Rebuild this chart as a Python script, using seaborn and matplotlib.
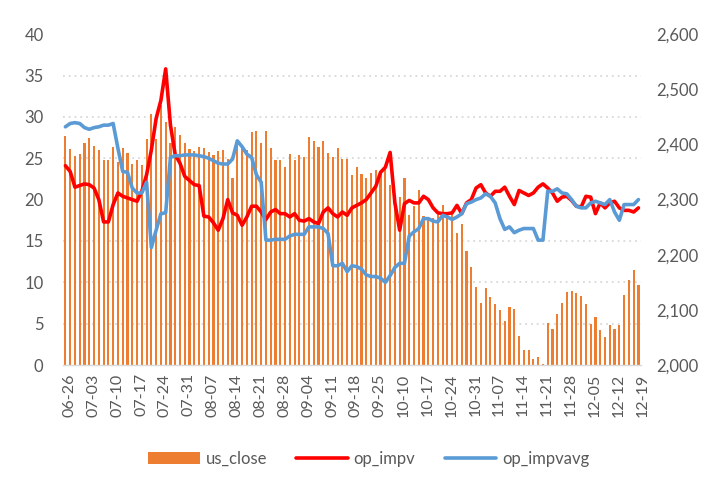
import pandas as pd
import seaborn as sns
import matplotlib.pyplot as plt
import matplotlib.transforms as mtrans
from matplotlib.patches import Patch
from matplotlib.lines import Line2D
from matplotlib.ticker import FuncFormatter

# trading days 2023-06-26 .. 2023-12-19 (exchange closed 09-29 .. 10-06)
holidays = ['2023-09-29', '2023-10-02', '2023-10-03', '2023-10-04',
            '2023-10-05', '2023-10-06']
dates = [d.strftime('%m-%d') for d in pd.bdate_range('2023-06-26', '2023-12-19')
         if d.strftime('%Y-%m-%d') not in holidays]

us_close = [2415, 2391, 2379, 2382, 2402, 2412, 2397, 2390, 2372, 2371,
            2396, 2369, 2394, 2384, 2365, 2372, 2363, 2409, 2455, 2409,
            2472, 2440, 2402, 2432, 2417, 2403, 2391, 2389, 2395, 2394,
            2387, 2381, 2388, 2390, 2374, 2339, 2408, 2396, 2390, 2423,
            2425, 2403, 2425, 2393, 2371, 2372, 2359, 2383, 2371, 2381,
            2377, 2413, 2406, 2396, 2406, 2385, 2377, 2394, 2373, 2374,
            2345, 2359, 2347, 2340, 2349, 2353, 2350, 2355, 2326, 2305,
            2305, 2340, 2272, 2289, 2317, 2270, 2269, 2266, 2275, 2290,
            2278, 2274, 2240, 2256, 2207, 2178, 2142, 2113, 2139, 2123,
            2110, 2099, 2080, 2106, 2102, 2053, 2027, 2028, 2011, 2015,
            2002, 2076, 2066, 2092, 2112, 2133, 2134, 2130, 2126, 2111,
            2075, 2087, 2064, 2051, 2073, 2065, 2073, 2127, 2154, 2172,
            2145]

op_impv = [24.1, 23.4, 21.5, 21.7, 21.9, 21.8, 21.4, 20.0, 17.3, 17.3,
           19.4, 20.8, 20.4, 20.2, 20.0, 19.8, 21.0, 23.0, 26.0, 29.8,
           32.0, 35.8, 29.0, 25.4, 24.4, 22.8, 22.3, 21.8, 21.7, 18.0,
           17.9, 17.2, 16.3, 17.7, 20.0, 18.4, 18.1, 16.9, 17.9, 19.2,
           19.2, 18.5, 17.6, 18.5, 18.8, 18.3, 18.3, 17.9, 18.3, 17.5,
           17.4, 17.7, 17.3, 17.1, 18.5, 19.0, 18.3, 17.9, 18.5, 18.1,
           19.0, 19.3, 19.6, 20.0, 20.8, 21.6, 23.3, 23.9, 25.7, 19.6,
           16.3, 19.5, 19.9, 19.6, 19.6, 20.4, 20.0, 19.0, 18.4, 18.3,
           18.3, 18.4, 19.3, 18.3, 19.6, 20.0, 21.4, 21.8, 20.8, 20.4,
           21.0, 21.0, 21.5, 20.4, 19.4, 21.1, 20.8, 20.5, 20.8, 21.5,
           21.9, 21.4, 20.8, 19.8, 20.3, 20.4, 19.9, 19.2, 19.1, 20.4,
           20.3, 18.3, 19.6, 19.0, 19.6, 19.8, 19.0, 18.7, 18.7, 18.5,
           19.0]

op_impvavg = [28.8, 29.2, 29.3, 29.2, 28.7, 28.5, 28.7, 28.8, 29.0, 29.0,
              29.2, 26.2, 23.4, 23.3, 21.4, 20.8, 20.8, 22.1, 14.2, 16.3,
              18.3, 18.4, 25.1, 25.3, 25.3, 25.4, 25.4, 25.4, 25.3, 25.2,
              25.0, 24.7, 24.4, 24.3, 24.3, 24.9, 27.1, 26.4, 25.5, 25.1,
              23.0, 22.1, 15.1, 15.1, 15.2, 15.2, 15.2, 15.6, 15.8, 15.8,
              15.8, 16.7, 16.7, 16.7, 16.5, 15.9, 12.0, 12.0, 12.3, 11.3,
              12.0, 11.9, 11.6, 10.9, 10.7, 10.7, 10.5, 10.0, 10.8, 11.8,
              12.3, 12.3, 15.6, 16.1, 16.5, 17.7, 17.7, 17.4, 17.3, 18.1,
              17.9, 17.6, 17.9, 18.3, 19.5, 19.7, 20.0, 20.2, 20.7, 20.4,
              19.6, 17.7, 16.4, 16.7, 16.0, 16.3, 16.5, 16.5, 16.5, 15.1,
              15.1, 21.0, 21.0, 21.3, 20.8, 20.7, 20.0, 19.2, 19.0, 19.0,
              19.6, 19.8, 19.6, 19.4, 20.0, 18.5, 17.5, 19.4, 19.4, 19.4,
              20.0]

BAR_COLOR = '#ED7D31'
RED = '#FF0000'
BLUE = '#5B9BD5'
GRID = '#D9D9D9'
TEXT = '#595959'
FS = 12


def main():
    sns.set_style('white')
    plt.rcParams['font.family'] = ['Lato', 'DejaVu Sans']

    df = pd.DataFrame({'date': dates, 'us_close': us_close,
                       'op_impv': op_impv, 'op_impvavg': op_impvavg})
    df['pos'] = range(len(df))

    fig = plt.figure(figsize=(7.16, 4.88), dpi=100)
    ax = fig.add_axes([0.088, 0.252, 0.807, 0.678])

    # bars sit on the price axis (shown on the right)
    sns.barplot(data=df, x='pos', y='us_close', color=BAR_COLOR,
                saturation=1, width=0.45, linewidth=0, ax=ax, zorder=2)
    ax.set_ylim(2000, 2600)
    ax.set_xlim(-0.5, len(df) - 0.5)
    ax.set_xlabel('')
    ax.set_ylabel('')

    # volatility lines on the left axis
    ax2 = ax.twinx()
    sns.lineplot(data=df, x='pos', y='op_impv', color=RED, lw=2.6, ax=ax2)
    sns.lineplot(data=df, x='pos', y='op_impvavg', color=BLUE, lw=2.6, ax=ax2)
    ax2.set_ylim(0, 40)
    ax2.set_yticks(range(0, 41, 5))
    ax2.yaxis.tick_left()
    ax2.tick_params(axis='y', length=0, labelsize=FS, labelcolor=TEXT, pad=14)
    ax2.set_ylabel('')
    ax2.set_xlabel('')
    for s in ax2.spines.values():
        s.set_visible(False)

    # twinx resets the host axis to the left, so move it after
    ax.yaxis.tick_right()
    ax.set_yticks(range(2000, 2601, 100))
    ax.yaxis.set_major_formatter(FuncFormatter(lambda v, p: f'{v:,.0f}'))
    # dotted grid follows the left axis (every 5 vol points = 75 on this axis)
    ax.set_yticks(range(2000, 2601, 75), minor=True)
    ax.grid(which='minor', axis='y', color=GRID, linestyle=(0, (1, 2.2)), lw=1.3, zorder=0)
    ax.grid(which='major', axis='y', visible=False)
    ax.tick_params(axis='y', which='both', length=0, labelsize=FS,
                   labelcolor=TEXT, pad=11, left=False, labelleft=False)

    ax.set_xticks(df['pos'][::5])
    ax.set_xticklabels(df['date'][::5], rotation=90)
    ax.set_xticks([p - 0.5 for p in df['pos']] + [len(df) - 0.5], minor=True)
    ax.tick_params(axis='x', which='major', length=0, labelsize=11.5,
                   labelcolor=TEXT, pad=6)
    ax.tick_params(axis='x', which='minor', length=4, color=GRID, width=1)
    shift = mtrans.ScaledTranslation(4 / 100, 0, fig.dpi_scale_trans)
    for lab in ax.get_xticklabels():
        lab.set_transform(lab.get_transform() + shift)

    for s in ['top', 'left', 'right']:
        ax.spines[s].set_visible(False)
    ax.spines['bottom'].set_color(GRID)
    ax.spines['bottom'].set_linewidth(1)

    handles = [Patch(facecolor=BAR_COLOR, edgecolor='none'),
               Line2D([], [], color=RED, lw=2.6),
               Line2D([], [], color=BLUE, lw=2.6)]
    fig.legend(handles, ['us_close', 'op_impv', 'op_impvavg'],
               loc='center', bbox_to_anchor=(0.515, 0.06), ncol=3, frameon=False,
               fontsize=FS, labelcolor=TEXT, handlelength=3.1, handleheight=0.75,
               columnspacing=1.75, handletextpad=0.35)

    fig.savefig('out.png', dpi=100)


if __name__ == '__main__':
    main()
